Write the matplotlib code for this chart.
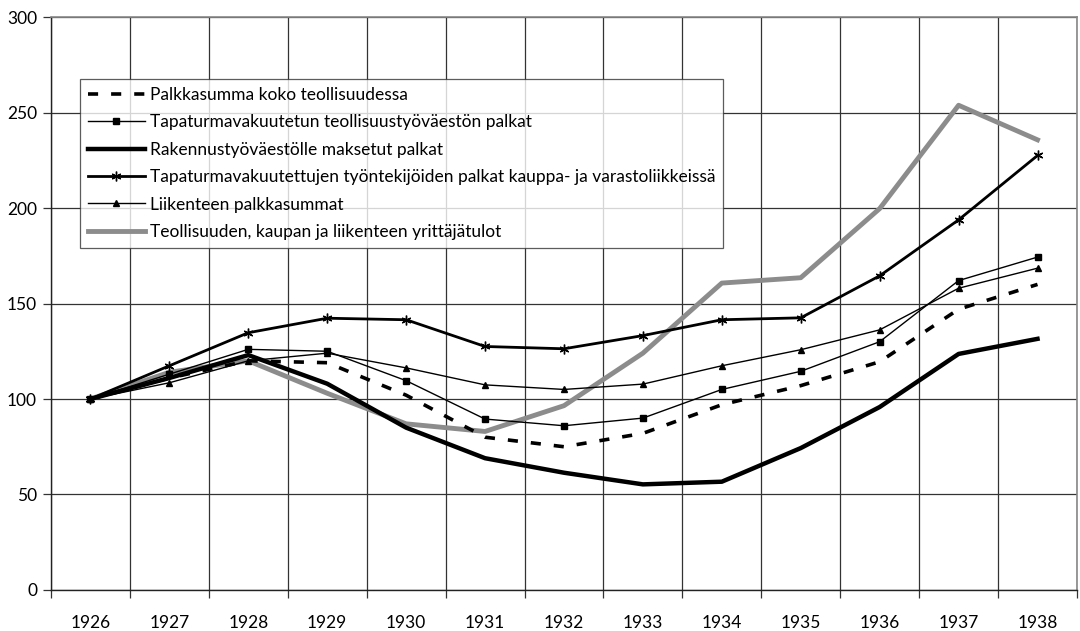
import numpy as np
import matplotlib.pyplot as plt
from matplotlib.ticker import FixedLocator

plt.rcParams['font.family'] = ['Lato', 'DejaVu Sans']

years = ['1926', '1927', '1928', '1929', '1930', '1931', '1932',
         '1933', '1934', '1935', '1936', '1937', '1938']

palkkasumma = [100, 111, 120, 119, 102, 80, 75, 82, 97, 107, 119.5, 147, 160]
teollisuus = [100, 113, 126, 125, 109.6, 89.5, 86, 90, 105, 114.5, 130, 162, 174.3]
rakennus = [100, 111, 123, 108, 85, 69, 61.4, 55.3, 56.7, 74.3, 95.8, 123.6, 131.5]
kauppa = [100, 117.4, 134.7, 142.3, 141.5, 127.5, 126.3, 133.2, 141.5, 142.5, 164.5, 193.8, 227.5]
liikenne = [100, 108.5, 120, 124, 116.3, 107.4, 105, 107.8, 117.4, 125.8, 136.2, 158, 168.5]
yrittaja = [100, 114, 120, 103, 87, 83, 96.5, 124, 160.7, 163.5, 199.7, 253.8, 235.7]

labels = [
    'Palkkasumma koko teollisuudessa',
    'Tapaturmavakuutetun teollisuustyöväestön palkat',
    'Rakennustyöväestölle maksetut palkat',
    'Tapaturmavakuutettujen työntekijöiden palkat kauppa- ja varastoliikkeissä',
    'Liikenteen palkkasummat',
    'Teollisuuden, kaupan ja liikenteen yrittäjätulot',
]

x = np.arange(len(years))

fig = plt.figure(figsize=(10.8, 6.31), dpi=100)
ax = fig.add_axes([0.0472, 0.065, 0.95, 0.908])

ax.plot(x, palkkasumma, color='black', lw=2.6, dashes=(2.8, 3.6), label=labels[0], zorder=3)
ax.plot(x, teollisuus, color='black', lw=1.0, marker='s', ms=4.5, label=labels[1], zorder=3)
ax.plot(x, rakennus, color='black', lw=3.2, label=labels[2], zorder=3)
ax.plot(x, kauppa, color='black', lw=2.0, marker=(6, 2, 0), ms=7, mew=1.0, label=labels[3], zorder=3)
ax.plot(x, liikenne, color='black', lw=1.0, marker='^', ms=4.5, label=labels[4], zorder=3)
ax.plot(x, yrittaja, color='#8c8c8c', lw=3.5, label=labels[5], zorder=2)

ax.set_xlim(-0.5, len(years) - 0.5)
ax.set_ylim(0, 300)
ax.set_yticks(np.arange(0, 301, 50))
ax.set_xticks(x)
ax.set_xticklabels(years)
ax.xaxis.set_minor_locator(FixedLocator(np.arange(-0.5, len(years), 1.0)))
ax.tick_params(axis='x', which='major', length=0, pad=18, labelsize=12.5)
ax.tick_params(axis='x', which='minor', length=6, width=0.9, color='#333333')
ax.tick_params(axis='y', length=6, width=0.9, color='#333333', labelsize=12.5, pad=4)

ax.grid(True, axis='y', which='major', color='#333333', lw=0.9)
ax.grid(True, axis='x', which='minor', color='#333333', lw=0.9)
ax.set_axisbelow(True)

for side in ['left', 'bottom']:
    ax.spines[side].set_color('#222222')
    ax.spines[side].set_linewidth(1.0)
for side in ['top', 'right']:
    ax.spines[side].set_color('#888888')
    ax.spines[side].set_linewidth(1.2)

leg = ax.legend(loc='upper left', bbox_to_anchor=(0.028, 0.892), fontsize=12.5,
                frameon=True, fancybox=False, edgecolor='#333333',
                handlelength=3.3, handletextpad=0.3, borderpad=0.45,
                labelspacing=0.66, borderaxespad=0)
leg.get_frame().set_linewidth(0.9)

fig.savefig('out.png', dpi=100)
